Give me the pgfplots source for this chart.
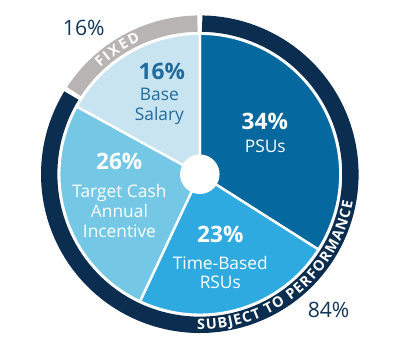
\documentclass[border=0pt]{standalone}
\usepackage{fontspec}
\setmainfont{Open Sans}
\usepackage{pgfplots}
\pgfplotsset{compat=1.18}
\usepackage{pgfplotstable}
\usetikzlibrary{decorations.text}

\definecolor{cPSU}{HTML}{05699F}
\definecolor{cRSU}{HTML}{2FAAE1}
\definecolor{cCash}{HTML}{74C8E6}
\definecolor{cBase}{HTML}{C8E4F0}
\definecolor{cNavy}{HTML}{0B2D4F}
\definecolor{cGray}{HTML}{B9B4B4}
\definecolor{cBaseTxt}{HTML}{1F6B9E}
\definecolor{cOut}{HTML}{12355A}

\pgfplotstableread{
name value
PSUs 34
RSUs 23
Cash 26
Base 16
}\slices

\begin{document}
\pgfplotstablegetelem{0}{value}\of\slices\let\vA\pgfplotsretval
\pgfplotstablegetelem{1}{value}\of\slices\let\vB\pgfplotsretval
\pgfplotstablegetelem{2}{value}\of\slices\let\vC\pgfplotsretval
\pgfplotstablegetelem{3}{value}\of\slices\let\vD\pgfplotsretval
\pgfmathsetmacro\aA{90-3.6*\vA}
\pgfmathsetmacro\aB{\aA-3.6*\vB}
\pgfmathsetmacro\aC{\aB-3.6*\vC}
\pgfmathsetmacro\aD{-270}
\pgfmathsetmacro\gA{90+3.6*\vD-0.9}
\pgfmathsetmacro\gB{90+3.6*\vD+0.9}
\begin{tikzpicture}
\begin{axis}[x=1pt, y=1pt, xmin=0, xmax=400, ymin=0, ymax=365,
  hide axis, clip=false, samples=120]
\path (axis cs:0,0) rectangle (axis cs:400,365);
% pie wedges
\addplot[fill=cPSU, draw=white, line width=2.5pt, line join=round, domain=\aA:90]
  ({192+146*cos(x)},{184+146*sin(x)}) -- (axis cs:192,184) -- cycle;
\addplot[fill=cRSU, draw=white, line width=2.5pt, line join=round, domain=\aB:\aA]
  ({192+146*cos(x)},{184+146*sin(x)}) -- (axis cs:192,184) -- cycle;
\addplot[fill=cCash, draw=white, line width=2.5pt, line join=round, domain=\aC:\aB]
  ({192+146*cos(x)},{184+146*sin(x)}) -- (axis cs:192,184) -- cycle;
\addplot[fill=cBase, draw=white, line width=2.5pt, line join=round, domain=\aD:\aC]
  ({192+146*cos(x)},{184+146*sin(x)}) -- (axis cs:192,184) -- cycle;
% centre hole
\addplot[fill=white, draw=none, domain=0:360, samples=60]
  ({192+20.5*cos(x)},{184+20.5*sin(x)}) -- cycle;
% outer ring
\addplot[draw=cGray, line width=17pt, domain=90.9:\gA]
  ({192+156.5*cos(x)},{184+156.5*sin(x)});
\addplot[draw=cNavy, line width=17pt, domain=\gB:449.1]
  ({192+156.5*cos(x)},{184+156.5*sin(x)});
% ring texts
\path[decorate, decoration={text along path, text align=fit to path,
  text={|\color{white}\fontsize{15}{16}\bfseries|SUBJECT TO PERFORMANCE}}]
  (axis cs:{192+161.5*cos(-91)},{184+161.5*sin(-91)}) arc[start angle=-91, end angle=-10, radius=161.5pt];
\path[decorate, decoration={text along path, text align=fit to path,
  text={|\color{white}\fontsize{15}{16}\bfseries|FIXED}}]
  (axis cs:{192+151.5*cos(133)},{184+151.5*sin(133)}) arc[start angle=133, end angle=114, radius=151.5pt];
% labels
\tikzset{pct/.style={anchor=base, font=\fontsize{23.5}{24}\bfseries\selectfont},
         lbl/.style={anchor=base, font=\fontsize{18}{20}\selectfont},
         outlbl/.style={anchor=base, text=cOut, font=\fontsize{22}{24}\selectfont}}
\node[pct, text=cBaseTxt] at (axis cs:152.5,282.3) {16\%};
\node[lbl, text=cBaseTxt] at (axis cs:150,260.7) {Base};
\node[lbl, text=cBaseTxt] at (axis cs:150,240) {Salary};
\node[pct, text=white] at (axis cs:259.5,230.7) {34\%};
\node[lbl, text=white] at (axis cs:260,206.7) {PSUs};
\node[pct, text=white] at (axis cs:108.3,189) {26\%};
\node[lbl, text=white] at (axis cs:108.5,160) {Target Cash};
\node[lbl, text=white] at (axis cs:108.5,139) {Annual};
\node[lbl, text=white] at (axis cs:108.5,118.3) {Incentive};
\node[pct, text=white] at (axis cs:213.3,113.3) {23\%};
\node[lbl, text=white] at (axis cs:213.3,85) {Time-Based};
\node[lbl, text=white] at (axis cs:213.3,65) {RSUs};
\node[outlbl] at (axis cs:71.5,328.3) {16\%};
\node[outlbl] at (axis cs:325.8,35) {84\%};
\end{axis}
\end{tikzpicture}
\end{document}
